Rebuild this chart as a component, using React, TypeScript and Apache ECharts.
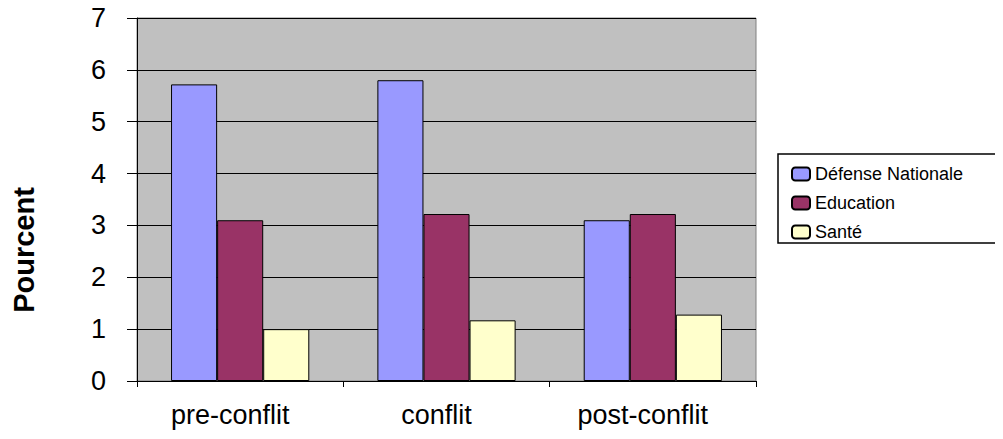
import React, { useEffect, useRef } from "react";
import * as echarts from "echarts";

const categories = ["pre-conflit", "conflit", "post-conflit"];
const defenseNationale = [5.72, 5.8, 3.1];
const education = [3.1, 3.22, 3.22];
const sante = [1.0, 1.17, 1.28];
const seriesNames = ["Défense Nationale", "Education", "Santé"];
const seriesColors = ["#9999FF", "#993366", "#FFFFCC"];
const yTicks = { min: 0, max: 7, interval: 1 };

const FONT = "'Liberation Sans', Arial, sans-serif";

export default function App() {
  const ref = useRef<HTMLDivElement>(null);
  useEffect(() => {
    if (!ref.current) return;
    const chart = echarts.init(ref.current, null, { renderer: "svg" });
    const values = [defenseNationale, education, sante];
    chart.setOption({
      animation: false,
      backgroundColor: "#FFFFFF",
      textStyle: { fontFamily: FONT },
      grid: {
        left: 137,
        top: 18,
        width: 619,
        height: 363,
        show: true,
        backgroundColor: "#C0C0C0",
        borderColor: "#808080",
        borderWidth: 1,
      },
      legend: {
        orient: "vertical",
        left: 786,
        top: 160,
        itemWidth: 18,
        itemHeight: 13,
        itemGap: 11,
        data: seriesNames,
        textStyle: { fontSize: 18, color: "#000", fontFamily: FONT },
      },
      graphic: [
        {
          type: "rect",
          shape: { x: 778, y: 154, width: 223, height: 89 },
          style: { fill: "#FFFFFF", stroke: "#000000", lineWidth: 1.5 },
          z: -1,
          silent: true,
        },
        {
          type: "text",
          x: 24,
          y: 250,
          rotation: Math.PI / 2,
          style: {
            text: "Pourcent",
            font: `bold 29px ${FONT}`,
            fill: "#000",
            align: "center",
            verticalAlign: "middle",
          },
        },
      ],
      xAxis: {
        type: "category",
        data: categories,
        axisLine: { lineStyle: { color: "#000", width: 1 } },
        axisTick: { show: true, length: 6, lineStyle: { color: "#000" } },
        axisLabel: {
          fontSize: 27,
          color: "#000",
          margin: 20,
          padding: [0, 20, 0, 0],
          fontFamily: FONT,
        },
      },
      yAxis: {
        type: "value",
        min: yTicks.min,
        max: yTicks.max,
        interval: yTicks.interval,
        axisLine: { show: true, lineStyle: { color: "#000", width: 1 } },
        axisTick: { show: true, length: 10, lineStyle: { color: "#000" } },
        axisLabel: { fontSize: 27, color: "#000", margin: 31, fontFamily: FONT },
        splitLine: { show: true, lineStyle: { color: "#000", width: 1 } },
      },
      series: seriesNames.map((name, i) => ({
        name,
        type: "bar",
        data: values[i],
        barGap: "0%",
        barCategoryGap: "33%",
        itemStyle: { color: seriesColors[i], borderColor: "#000", borderWidth: 1 },
      })),
    });
    return () => chart.dispose();
  }, []);
  return <div ref={ref} style={{ width: 1003, height: 439, margin: -8 }} />;
}
